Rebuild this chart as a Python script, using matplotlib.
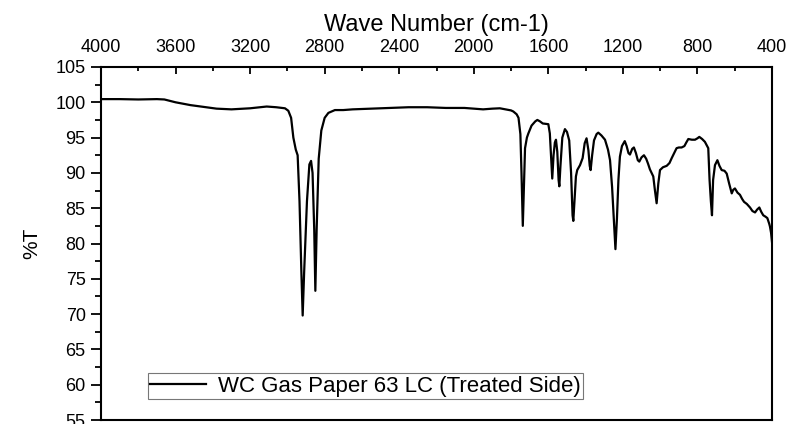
import matplotlib
matplotlib.use("Agg")
import matplotlib.pyplot as plt

plt.rcParams["font.family"] = ["Liberation Sans", "DejaVu Sans"]

# ---------------------------------------------------------
# FTIR spectrum, values
# ---------------------------------------------------------
wave_number = [
    4000, 3900, 3800, 3700, 3660, 3600, 3520, 3450, 3380, 3300,
    3200, 3111, 3060, 3013, 2995, 2980, 2968, 2955, 2945, 2935,
    2925, 2918, 2910, 2895, 2882, 2873, 2865, 2856, 2850, 2843,
    2832, 2818, 2800, 2780, 2745, 2700, 2650, 2550, 2450, 2350,
    2250, 2150, 2050, 2000, 1950, 1900, 1860, 1830, 1800, 1788,
    1770, 1760, 1750, 1744, 1737, 1731, 1725, 1715, 1707, 1690,
    1670, 1659, 1645, 1630, 1600, 1592, 1585, 1579, 1572, 1565,
    1559, 1552, 1545, 1541, 1535, 1525, 1511, 1500, 1488, 1478,
    1470, 1466, 1460, 1452, 1445, 1430, 1416, 1405, 1395, 1385,
    1378, 1373, 1365, 1355, 1341, 1332, 1315, 1296, 1280, 1269,
    1258, 1248, 1240, 1232, 1224, 1216, 1205, 1190, 1180, 1170,
    1162, 1150, 1141, 1130, 1120, 1112, 1100, 1087, 1075, 1065,
    1055, 1037, 1028, 1019, 1010, 1001, 985, 965, 950, 938,
    925, 912, 900, 885, 870, 860, 849, 830, 813, 800,
    790, 775, 760, 742, 735, 728, 722, 716, 706, 693,
    682, 670, 655, 643, 630, 616, 608, 599, 585, 572,
    560, 550, 535, 518, 505, 491, 480, 468, 458, 447,
    435, 425, 415, 411, 405, 400,
]
transmittance = [
    100.45, 100.45, 100.4, 100.45, 100.4, 100.0, 99.6, 99.35, 99.1, 99.0,
    99.15, 99.4, 99.3, 99.15, 98.8, 97.8, 95.0, 93.3, 92.5, 86.0,
    76.0, 69.8, 76.0, 86.0, 91.2, 91.7, 90.0, 82.0, 73.3, 82.0,
    92.0, 96.0, 97.8, 98.5, 98.9, 98.9, 99.0, 99.1, 99.2, 99.3,
    99.3, 99.2, 99.2, 99.1, 99.0, 99.1, 99.15, 99.0, 98.85, 98.7,
    98.3, 97.8, 95.5, 90.0, 82.5, 88.0, 93.5, 95.0, 95.6, 96.7,
    97.3, 97.5, 97.3, 97.0, 96.9, 95.6, 92.0, 89.2, 92.5, 94.3,
    94.7, 93.0, 89.0, 88.1, 91.0, 95.0, 96.2, 95.8, 94.6, 90.0,
    84.0, 83.2, 86.0, 89.5, 90.4, 91.1, 92.1, 94.2, 94.9, 93.2,
    91.0, 90.4, 92.5, 94.6, 95.5, 95.7, 95.3, 94.7, 93.3, 91.8,
    88.0, 83.0, 79.2, 83.5, 89.0, 92.3, 93.8, 94.5, 93.8, 92.8,
    92.6, 93.4, 93.6, 92.8, 91.8, 91.6, 92.2, 92.5, 92.0, 91.3,
    90.5, 89.5, 87.5, 85.7, 88.5, 90.4, 90.8, 91.0, 91.4, 92.1,
    92.8, 93.5, 93.6, 93.6, 93.8, 94.3, 94.8, 94.7, 94.7, 94.9,
    95.1, 94.8, 94.4, 93.5, 89.0, 86.0, 84.0, 89.0, 91.1, 91.8,
    91.0, 90.4, 90.3, 89.9, 88.5, 87.1, 87.6, 87.8, 87.2, 86.9,
    86.3, 85.9, 85.6, 85.1, 84.6, 84.4, 84.8, 85.1, 84.5, 84.0,
    83.8, 83.6, 82.8, 82.4, 81.5, 80.2,
]
series_label = "WC Gas Paper 63 LC (Treated Side)"

x_ticks = [4000, 3600, 3200, 2800, 2400, 2000, 1600, 1200, 800, 400]
y_ticks = [55, 60, 65, 70, 75, 80, 85, 90, 95, 100, 105]


fig = plt.figure(figsize=(7.94, 4.24), dpi=100)
ax = fig.add_axes([0.1272, 0.0094, 0.8451, 0.8326])

ax.plot(wave_number, transmittance, color="black", lw=1.6, label=series_label)

# x axis on top, reversed (Origin style)
ax.set_xlim(4000, 400)
ax.set_ylim(55, 105)
ax.xaxis.tick_top()
ax.xaxis.set_label_position("top")
ax.set_xticks(x_ticks)
ax.set_xticks(range(3800, 400, -400), minor=True)
ax.set_yticks(y_ticks)
ax.set_yticks([y + 2.5 for y in y_ticks[:-1]], minor=True)

ax.tick_params(axis="x", which="major", direction="in", length=5, width=1.3,
               labelsize=13, pad=8, bottom=False, top=True)
ax.tick_params(axis="x", which="minor", direction="in", length=3, width=1.3,
               bottom=False, top=True)
ax.tick_params(axis="y", which="major", direction="out", length=7, width=1.3,
               labelsize=13, pad=4, right=False)
ax.tick_params(axis="y", which="minor", direction="out", length=4, width=1.3,
               right=False)

ax.set_xlabel("Wave Number (cm-1)", fontsize=17, labelpad=6)
ax.set_ylabel("%T", fontsize=15, labelpad=10)

for side in ["left", "right", "top", "bottom"]:
    ax.spines[side].set_linewidth(1.5)

leg = ax.legend(loc="lower left", bbox_to_anchor=(0.07, 0.06), fontsize=16,
                frameon=True, fancybox=False, handlelength=2.5,
                borderpad=0.1, handletextpad=0.55, borderaxespad=0)
leg.get_frame().set_edgecolor("#555555")
leg.get_frame().set_linewidth(0.8)

fig.savefig("out.png", dpi=100)
plt.close(fig)
